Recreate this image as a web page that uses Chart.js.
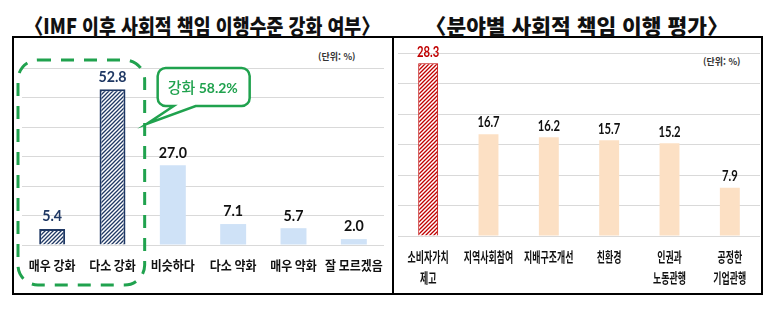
<!DOCTYPE html>
<html lang="ko">
<head>
<meta charset="utf-8">
<script src="https://cdn.jsdelivr.net/npm/chart.js@4.4.1/dist/chart.umd.min.js"></script>
<style>
  html, body { margin: 0; padding: 0; background: #fff; }
  body { width: 773px; height: 324px; position: relative; overflow: hidden; font-family: "Noto Sans CJK KR", sans-serif; }
  .frame { position: absolute; left: 12px; top: 36px; width: 751px; height: 259px; border: 2px solid #000; box-sizing: border-box; }
  .divider { position: absolute; left: 392px; top: 36px; width: 2px; height: 259px; background: #000; }
  .title { position: absolute; top: 12px; white-space: nowrap; font-weight: 900; font-size: 21px; color: #111; line-height: 26px; transform-origin: left center; }
  .unit { position: absolute; white-space: nowrap; font-size: 9px; font-weight: bold; color: #333; }
  canvas { position: absolute; }
</style>
</head>
<body>
<div class="frame"></div>
<div class="divider"></div>
<div class="title" id="titleLeft" data-x1="25" data-x2="380">〈IMF 이후 사회적 책임 이행수준 강화 여부〉</div>
<div class="title" id="titleRight" data-x1="425" data-x2="728">〈분야별 사회적 책임 이행 평가〉</div>
<div class="unit" style="left:318px; top:50px;">(단위: %)</div>
<div class="unit" style="left:703px; top:55px;">(단위: %)</div>
<canvas id="leftChart" width="379" height="255" style="left:14px; top:38px; width:379px; height:255px;"></canvas>
<canvas id="rightChart" width="366" height="255" style="left:395px; top:38px; width:366px; height:255px;"></canvas>
<script>
// 왼쪽: IMF 이후 사회적 책임 이행수준 강화 여부
const levelLabels = ['매우 강화', '다소 강화', '비슷하다', '다소 약화', '매우 약화', '잘 모르겠음'];
const levelValues = [5.4, 52.8, 27.0, 7.1, 5.7, 2.0];
const levelTicks = [0, 10, 20, 30, 40, 50, 60];
const strengthenText = ['강화', '58.2%'];

// 오른쪽: 분야별 사회적 책임 이행 평가
const fieldLabels = [['소비자가치', '제고'], '지역사회참여', '지배구조개선', '친환경', ['인권과', '노동관행'], ['공정한', '기업관행']];
const fieldValues = [28.3, 16.7, 16.2, 15.7, 15.2, 7.9];
const fieldTicks = [0, 5, 10, 15, 20, 25, 30];

const NAVY = '#1f3864';
const RED = '#c00000';
const GREEN = '#20a24e';
const GRID = '#d9d9d9';

// 빗금 패턴
const makeHatch = (color) => {
    const c = document.createElement('canvas');
    c.width = 4; c.height = 4;
    const g = c.getContext('2d');
    g.fillStyle = '#fff';
    g.fillRect(0, 0, 4, 4);
    g.strokeStyle = color;
    g.lineWidth = 1.3;
    g.beginPath();
    g.moveTo(-1, 5); g.lineTo(5, -1);
    g.moveTo(-1, 1); g.lineTo(1, -1);
    g.moveTo(3, 5); g.lineTo(5, 3);
    g.stroke();
    return g.createPattern(c, 'repeat');
};

// 막대 위 값, 축 아래 항목명
const barText = {
    id: 'barText',
    afterDatasetsDraw(chart, args, opts) {
        const ctx = chart.ctx;
        const data = chart.data.datasets[0].data;
        chart.getDatasetMeta(0).data.forEach((bar, i) => {
            ctx.save();
            ctx.font = opts.valueFont;
            ctx.fillStyle = opts.valueColors[i];
            ctx.textAlign = 'center';
            ctx.textBaseline = 'bottom';
            ctx.translate(bar.x, bar.y - opts.valueOffset);
            ctx.scale(opts.valueScale, 1);
            ctx.fillText(data[i].toFixed(1), 0, 0);
            ctx.restore();
        });
        const xs = chart.scales.x;
        chart.data.labels.forEach((lab, i) => {
            const lines = Array.isArray(lab) ? lab : [lab];
            lines.forEach((line, j) => {
                ctx.save();
                ctx.font = opts.labelFont;
                ctx.fillStyle = '#111';
                ctx.textAlign = 'center';
                ctx.textBaseline = 'middle';
                ctx.translate(xs.getPixelForValue(i), chart.chartArea.bottom + opts.labelOffset + j * opts.lineHeight);
                ctx.scale(opts.labelScale, 1);
                ctx.fillText(line, 0, 0);
                ctx.restore();
            });
        });
    }
};

// 강화 묶음 점선 상자 + 말풍선
const strengthenBox = {
    id: 'strengthenBox',
    afterDraw(chart) {
        const ctx = chart.ctx;
        const xs = chart.scales.x;
        const area = chart.chartArea;
        const step = xs.getPixelForValue(1) - xs.getPixelForValue(0);
        const left = xs.getPixelForValue(0) - step / 2 - 4;
        const right = xs.getPixelForValue(1) + step / 2 + 2;
        const top = area.top - 8;
        const bottom = area.bottom + 40;
        ctx.save();
        ctx.strokeStyle = GREEN;
        ctx.lineWidth = 3;
        ctx.setLineDash([13, 10]);
        ctx.beginPath();
        ctx.roundRect(left, top, right - left, bottom - top, 20);
        ctx.stroke();
        ctx.restore();

        // 말풍선
        const bx = right + 13, by = area.top, bw = 92, bh = 38, r = 8;
        const tipX = right + 2, tipY = area.top + 56;
        ctx.save();
        ctx.strokeStyle = GREEN;
        ctx.fillStyle = '#fff';
        ctx.lineWidth = 2.5;
        ctx.setLineDash([]);
        ctx.beginPath();
        ctx.moveTo(bx + r, by);
        ctx.lineTo(bx + bw - r, by);
        ctx.arcTo(bx + bw, by, bx + bw, by + r, r);
        ctx.lineTo(bx + bw, by + bh - r);
        ctx.arcTo(bx + bw, by + bh, bx + bw - r, by + bh, r);
        ctx.lineTo(bx + 38, by + bh);
        ctx.lineTo(tipX, tipY);
        ctx.lineTo(bx + 16, by + bh);
        ctx.lineTo(bx + r, by + bh);
        ctx.arcTo(bx, by + bh, bx, by + bh - r, r);
        ctx.lineTo(bx, by + r);
        ctx.arcTo(bx, by, bx + r, by, r);
        ctx.closePath();
        ctx.fill();
        ctx.stroke();
        ctx.fillStyle = GREEN;
        ctx.textBaseline = 'middle';
        ctx.textAlign = 'left';
        ctx.font = '500 15px "Noto Sans CJK KR"';
        ctx.fillText(strengthenText[0], bx + 10, by + bh / 2);
        const w = ctx.measureText(strengthenText[0] + ' ').width;
        ctx.font = 'bold 14px Lato, "Liberation Sans"';
        ctx.fillText(strengthenText[1], bx + 10 + w, by + bh / 2 + 1);
        ctx.restore();
    }
};

const baseScales = (ticks) => ({
    x: {
        grid: { display: false },
        border: { display: false },
        ticks: { display: false },
        afterFit: (s) => { s.height = 0; }
    },
    y: {
        min: ticks[0],
        max: ticks[ticks.length - 1],
        afterBuildTicks: (s) => { s.ticks = ticks.map(v => ({ value: v })); },
        grid: { color: GRID, lineWidth: 1, drawTicks: false },
        border: { display: false },
        ticks: { display: false },
        afterFit: (s) => { s.width = 0; }
    }
});

new Chart(document.getElementById('leftChart'), {
    type: 'bar',
    data: {
        labels: levelLabels,
        datasets: [{
            data: levelValues,
            backgroundColor: levelValues.map((v, i) => i < 2 ? makeHatch(NAVY) : '#cfe2f7'),
            borderColor: levelValues.map((v, i) => i < 2 ? NAVY : 'rgba(0,0,0,0)'),
            borderWidth: levelValues.map((v, i) => i < 2 ? 2 : 0),
            categoryPercentage: 1,
            barPercentage: 0.43
        }]
    },
    options: {
        responsive: false,
        animation: false,
        layout: { padding: { left: 8, right: 9, top: 30, bottom: 48 } },
        scales: baseScales(levelTicks),
        plugins: {
            legend: { display: false },
            tooltip: { enabled: false },
            barText: {
                valueFont: 'bold 15px Lato, "Liberation Sans"',
                valueColors: levelValues.map((v, i) => i < 2 ? NAVY : '#111'),
                valueOffset: 5,
                valueScale: 0.95,
                labelFont: 'bold 13px "Noto Sans CJK KR"',
                labelOffset: 20,
                labelScale: 0.92,
                lineHeight: 20
            }
        }
    },
    plugins: [barText, strengthenBox]
});

new Chart(document.getElementById('rightChart'), {
    type: 'bar',
    data: {
        labels: fieldLabels,
        datasets: [{
            data: fieldValues,
            backgroundColor: fieldValues.map((v, i) => i === 0 ? makeHatch(RED) : '#fce0c4'),
            borderColor: fieldValues.map((v, i) => i === 0 ? RED : 'rgba(0,0,0,0)'),
            borderWidth: fieldValues.map((v, i) => i === 0 ? 1 : 0),
            categoryPercentage: 1,
            barPercentage: 0.33
        }]
    },
    options: {
        responsive: false,
        animation: false,
        layout: { padding: { left: 3, right: 1, top: 15, bottom: 57 } },
        scales: baseScales(fieldTicks),
        plugins: {
            legend: { display: false },
            tooltip: { enabled: false },
            barText: {
                valueFont: 'bold 15px Lato, "Liberation Sans"',
                valueColors: fieldValues.map((v, i) => i === 0 ? RED : '#111'),
                valueOffset: 4,
                valueScale: 0.75,
                labelFont: 'bold 14px "Noto Sans CJK KR"',
                labelOffset: 21,
                labelScale: 0.64,
                lineHeight: 21
            }
        }
    },
    plugins: [barText]
});

// 제목 폭 맞추기
document.querySelectorAll('.title').forEach((el) => {
    const x1 = +el.dataset.x1, x2 = +el.dataset.x2;
    const w = el.offsetWidth;
    el.style.left = x1 + 'px';
    el.style.transform = `scaleX(${(x2 - x1) / w})`;
});
</script>
</body>
</html>
